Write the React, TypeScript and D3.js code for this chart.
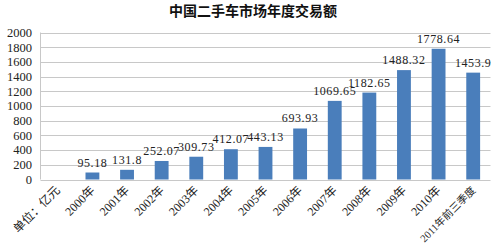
import React from "react";
import * as d3 from "d3";

const categories = ["单位：亿元", "2000年", "2001年", "2002年", "2003年", "2004年", "2005年", "2006年", "2007年", "2008年", "2009年", "2010年", "2011年前三季度"];
const values: (number | null)[] = [null, 95.18, 131.8, 252.07, 309.73, 412.07, 443.13, 693.93, 1069.65, 1182.65, 1488.32, 1778.64, 1453.9];
const labels = ["", "95.18", "131.8", "252.07", "309.73", "412.07", "443.13", "693.93", "1069.65", "1182.65", "1488.32", "1778.64", "1453.9"];
const yTicks = [0, 200, 400, 600, 800, 1000, 1200, 1400, 1600, 1800, 2000];
const title = "中国二手车市场年度交易额";

export default function App() {
  const W = 500, H = 246;
  const left = 40.5, right = 490.5, top = 32.5, bottom = 179.5;
  const x = d3.scaleBand<string>().domain(categories).range([left, right]).paddingInner(0.6).paddingOuter(0.3);
  const y = d3.scaleLinear().domain([0, 2000]).range([bottom, top]);
  const serif = "'Liberation Serif', 'Noto Sans CJK SC', serif";
  return (
    <svg width={W} height={H} style={{ position: "absolute", left: 0, top: 0, background: "#fff" }}>
      <text x={253} y={16} textAnchor="middle" fontSize={14} fontWeight="bold" fontFamily="'Noto Sans CJK SC', sans-serif" fill="#111">{title}</text>
      {yTicks.map((t) => (
        <g key={t}>
          <line x1={left} x2={right} y1={Math.round(y(t)) + 0.5} y2={Math.round(y(t)) + 0.5} stroke="#c8c8c8" strokeWidth={1} />
          <text x={32} y={y(t)} dy="0.35em" textAnchor="end" fontSize={12.5} fontFamily={serif} fill="#222">{t}</text>
        </g>
      ))}
      <line x1={left} x2={left} y1={top} y2={bottom} stroke="#c8c8c8" />
      {categories.map((c, i) => {
        const v = values[i];
        const bx = x(c)!;
        const bw = x.bandwidth();
        const cx = bx + bw / 2;
        const last = i === categories.length - 1;
        return (
          <g key={c}>
            {v != null && (
              <>
                <rect x={bx} y={y(v)} width={bw} height={y(0) - y(v)} fill="#4a7ebb" />
                <text x={cx} y={y(v) - 6} textAnchor="middle" fontSize={12} letterSpacing={0.6} fontFamily={serif} fill="#222">{labels[i]}</text>
              </>
            )}
            <text transform={`translate(${cx + 3},${191}) rotate(-45)`} textAnchor="end" fontSize={last ? 10.5 : 12} fontFamily={serif} fill="#222">{c}</text>
          </g>
        );
      })}
    </svg>
  );
}
